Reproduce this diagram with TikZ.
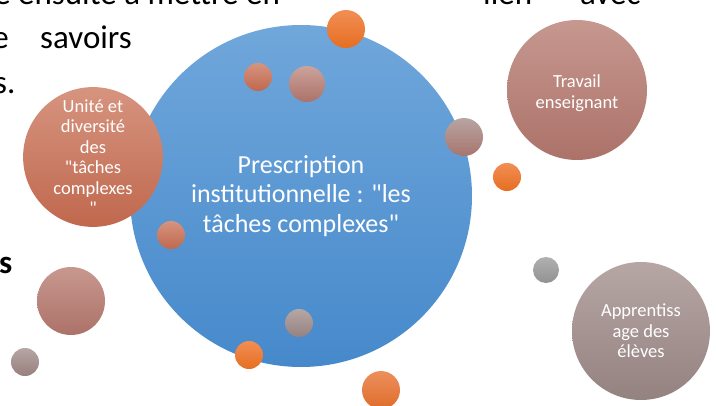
\documentclass[tikz,border=0pt]{standalone}
\usepackage{fontspec}
\setmainfont{Carlito}[Ligatures=TeXOff]
\usepackage{xcolor}
\usepackage{tikz}

\definecolor{blueTop}{RGB}{112,167,219}
\definecolor{blueBot}{RGB}{70,137,203}
\definecolor{orangeTop}{RGB}{242,142,84}
\definecolor{orangeBot}{RGB}{230,110,34}
\definecolor{terraTop}{RGB}{214,148,127}
\definecolor{terraBot}{RGB}{192,104,78}
\definecolor{roseTop}{RGB}{198,152,144}
\definecolor{roseBot}{RGB}{172,114,105}
\definecolor{greyRoseTop}{RGB}{182,166,164}
\definecolor{greyRoseBot}{RGB}{148,130,129}
\definecolor{greyTop}{RGB}{176,176,176}
\definecolor{greyBot}{RGB}{146,146,146}

\begin{document}
\begin{tikzpicture}[x=1pt, y=-1pt,
    bubble/.style={circle, inner sep=0pt, minimum size=#1, text=white, align=center},
    bubble/.default=28pt,
    pagetext/.style={inner sep=0pt, anchor=base west, font=\fontsize{33}{40}\selectfont}]
    \useasboundingbox (0,0) rectangle (716,405);
    \clip (0,0) rectangle (716,405);

    \node[pagetext, anchor=base east] (line1) at (280,4) {e ensuite à mettre en};
    \node[pagetext] (lien) at (483,4) {lien};
    \node[pagetext] (avec) at (580,4) {avec};
    \node[pagetext, anchor=base east] (line2) at (9,48) {e};
    \node[pagetext] (savoirs) at (40,48) {savoirs};
    \node[pagetext] (line3) at (-6,93) {s.};
    \node[pagetext, font=\fontsize{33}{40}\selectfont\bfseries] (line4) at (-1,273) {s};

    \node[bubble=342pt, top color=blueTop, bottom color=blueBot,
        font=\fontsize{26}{29.5}\selectfont] (prescription) at (301,196)
        {Prescription\\institutionnelle : "les\\tâches complexes"};
    \node[bubble=138pt, top color=terraTop, bottom color=terraBot,
        font=\fontsize{18.5}{20.5}\selectfont] (unite) at (93,157)
        {Unité et\\diversité\\des\\"tâches\\complexes\\"};
    \node[bubble=140pt, top color=roseTop, bottom color=roseBot] (travail) at (577,90) {};
    \node[text=white, align=center, font=\fontsize{18.5}{20.5}\selectfont] (travailtext) at (577,93)
        {Travail\\enseignant};
    \node[bubble=138pt, top color=greyRoseTop, bottom color=greyRoseBot,
        font=\fontsize{18.5}{20.5}\selectfont] (apprentissage) at (641,331)
        {Apprentiss\\age des\\élèves};

    \node[bubble=38pt, top color=orangeTop, bottom color=orangeBot] (o1) at (346,29) {};
    \node[bubble=28pt, top color=terraTop, bottom color=terraBot] (s1) at (258,77) {};
    \node[bubble=36pt, top color=roseTop!90!white, bottom color=roseBot] (s2) at (307,84) {};
    \node[bubble=38pt, top color=greyRoseTop!90!roseTop, bottom color=roseBot!80!greyRoseBot] (p1) at (464,137) {};
    \node[bubble=28pt, top color=orangeTop, bottom color=orangeBot] (o2) at (507,177) {};
    \node[bubble=26pt, top color=greyTop, bottom color=greyBot] (g1) at (546,270) {};
    \node[bubble=28pt, top color=terraTop, bottom color=terraBot] (s3) at (171,235) {};
    \node[bubble=68pt, top color=roseTop!90!terraTop, bottom color=roseBot] (b1) at (71,301) {};
    \node[bubble=28pt, top color=greyRoseTop, bottom color=greyRoseBot!85!roseBot] (b2) at (25,362) {};
    \node[bubble=28pt, top color=orangeTop, bottom color=orangeBot] (o3) at (249,355) {};
    \node[bubble=28pt, top color=greyRoseTop, bottom color=greyRoseBot] (p2) at (299,323) {};
    \node[bubble=38pt, top color=orangeTop!80!terraTop, bottom color=orangeBot!80!terraBot] (o4) at (381,390) {};
\end{tikzpicture}
\end{document}
